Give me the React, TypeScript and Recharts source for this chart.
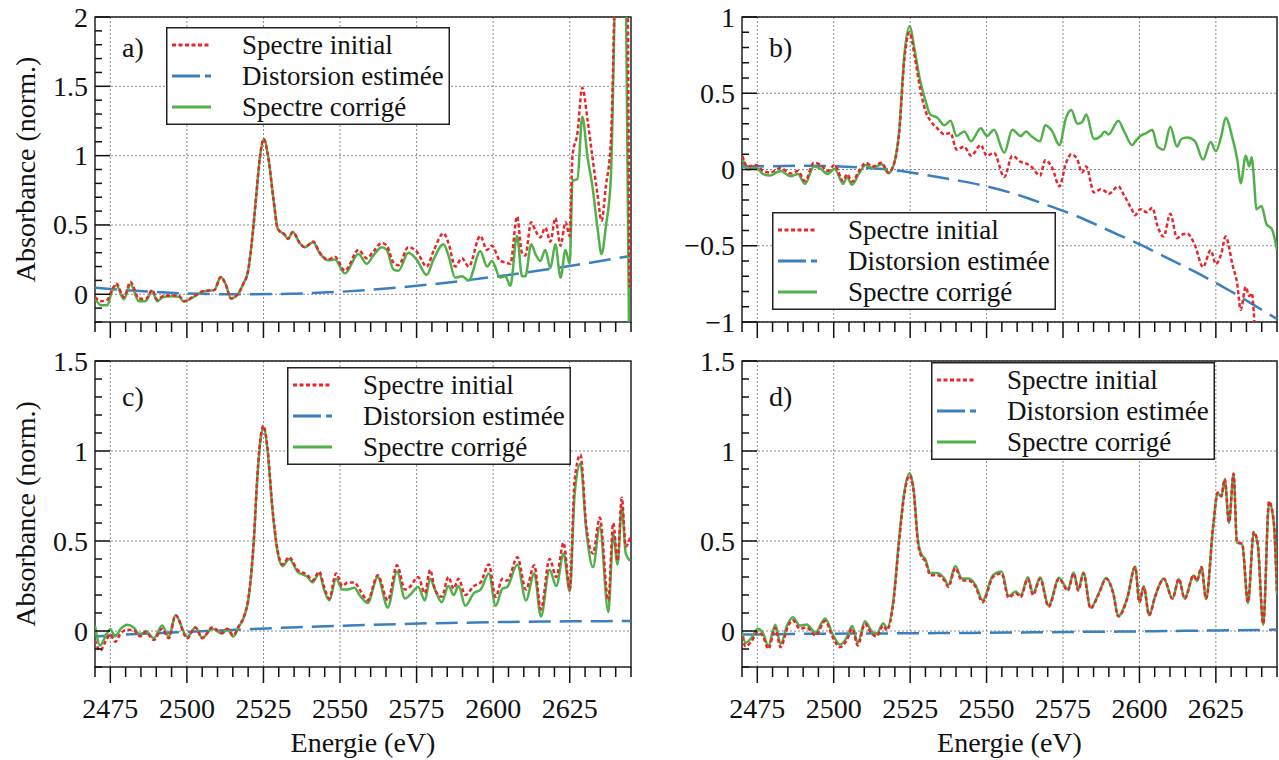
import React from "react";
import {
  LineChart,
  Line,
  XAxis,
  YAxis,
  CartesianGrid,
  Legend,
  ReferenceArea,
} from "recharts";

const FONT = '"Liberation Serif", "Times New Roman", serif';
const RED = "#e8262b";
const BLUE = "#3a7fc0";
const GREEN = "#52b04a";

// axes
const energyDomain: [number, number] = [2470, 2645];
const energyTicks = [2475, 2500, 2525, 2550, 2575, 2600, 2625];
const energyMinor = Array.from({ length: 36 }, (_, i) => 2470 + i * 5);
const tenths = (lo: number, hi: number) =>
  Array.from({ length: Math.round((hi - lo) * 10) + 1 }, (_, i) => Math.round(lo * 10 + i) / 10);

// distortion curves (smooth)
const distortionEnergies = [2470, 2480, 2490, 2500, 2510, 2520, 2530, 2540, 2550, 2560, 2570, 2580, 2590, 2600, 2610, 2620, 2630, 2640, 2645];
const distortionA = [0.047, 0.03, 0.016, 0.006, 0.001, 0.0, 0.002, 0.008, 0.018, 0.032, 0.05, 0.072, 0.097, 0.125, 0.155, 0.187, 0.222, 0.258, 0.277];
const distortionB = [0.02, 0.022, 0.025, 0.022, 0.012, -0.005, -0.035, -0.07, -0.11, -0.165, -0.235, -0.31, -0.4, -0.49, -0.59, -0.69, -0.8, -0.92, -0.98];
const distortionC = [-0.03, -0.02, -0.012, -0.005, 0.003, 0.01, 0.017, 0.023, 0.029, 0.034, 0.039, 0.043, 0.046, 0.049, 0.051, 0.053, 0.054, 0.055, 0.055];
const distortionD = [-0.02, -0.018, -0.016, -0.015, -0.014, -0.013, -0.012, -0.011, -0.01, -0.008, -0.007, -0.005, -0.004, -0.002, 0.0, 0.002, 0.004, 0.006, 0.008];

// panel a
const energiesA = [2470, 2472, 2474, 2475.5, 2477, 2479.4, 2481.6, 2484.3, 2486.5, 2488.7, 2490.3, 2492.5, 2495, 2497.4, 2499, 2502.4, 2505.6, 2508.9, 2511.1, 2512.7, 2514.4, 2516.6, 2518.5, 2519.9, 2521.5, 2522.6, 2523.8, 2525.1, 2526.5, 2528.3, 2529.7, 2531.9, 2533, 2534.6, 2536.8, 2538.5, 2541.2, 2543.4, 2546.1, 2548.3, 2551.6, 2556, 2558.7, 2560.9, 2563.6, 2565.3, 2567.4, 2569.1, 2572.3, 2575, 2578.3, 2580.5, 2583.8, 2585.4, 2587.6, 2589.8, 2592, 2595.8, 2598, 2599.6, 2602.3, 2604, 2605.6, 2607.8, 2609.4, 2610.5, 2612.4, 2613.8, 2615.4, 2617, 2618.7, 2620.3, 2622, 2623.6, 2625, 2625.9, 2627.5, 2629.1, 2630.8, 2632.4, 2634, 2635.4, 2636.8, 2638.4, 2639.5, 2641, 2643, 2644.5];
const initialA = [-0.02, -0.05, -0.04, 0.03, 0.077, -0.02, 0.089, -0.03, -0.035, 0.03, -0.04, -0.01, -0.008, -0.01, -0.05, -0.012, 0.024, 0.03, 0.125, 0.07, -0.03, 0.0, 0.08, 0.16, 0.44, 0.7, 0.98, 1.12, 1.0, 0.68, 0.47, 0.43, 0.4, 0.45, 0.37, 0.34, 0.38, 0.3, 0.25, 0.27, 0.17, 0.32, 0.26, 0.31, 0.37, 0.35, 0.23, 0.21, 0.34, 0.31, 0.2, 0.31, 0.44, 0.37, 0.2, 0.26, 0.2, 0.42, 0.32, 0.35, 0.24, 0.23, 0.22, 0.56, 0.3, 0.28, 0.52, 0.46, 0.41, 0.48, 0.38, 0.55, 0.35, 0.52, 0.42, 1.0, 1.16, 1.49, 1.26, 0.99, 0.73, 0.53, 0.78, 1.09, 2.0, 4.0, 4.0, 0.05];
const corrigeA = [-0.03, -0.08, -0.08, 0.02, 0.065, -0.036, 0.072, -0.05, -0.05, 0.024, -0.05, -0.017, -0.015, -0.017, -0.053, -0.017, 0.022, 0.03, 0.125, 0.07, -0.03, 0.0, 0.08, 0.16, 0.44, 0.7, 0.98, 1.12, 1.0, 0.68, 0.47, 0.43, 0.4, 0.45, 0.37, 0.34, 0.375, 0.295, 0.245, 0.25, 0.15, 0.29, 0.22, 0.28, 0.34, 0.32, 0.18, 0.17, 0.3, 0.25, 0.14, 0.25, 0.36, 0.28, 0.12, 0.13, 0.1, 0.31, 0.2, 0.24, 0.12, 0.13, 0.06, 0.42, 0.13, 0.13, 0.36, 0.29, 0.24, 0.32, 0.19, 0.36, 0.12, 0.32, 0.22, 0.82, 0.83, 1.28, 0.99, 0.78, 0.49, 0.29, 0.49, 0.83, 1.9, 4.0, 3.0, -0.6];

// panel b
const energiesB = [2470.1, 2471.8, 2474.7, 2476.9, 2479.2, 2482.6, 2486, 2488.3, 2490.6, 2493.5, 2495.7, 2498, 2500.3, 2503.1, 2504.3, 2506, 2508.3, 2510.5, 2512.8, 2515.7, 2517.9, 2519.6, 2521.4, 2523.1, 2524.8, 2526.5, 2528.2, 2529.9, 2531.6, 2533.9, 2536.2, 2538.2, 2540.2, 2542.7, 2544.9, 2548.1, 2550.1, 2552.4, 2555.8, 2558.4, 2561.2, 2562.9, 2564.6, 2567.5, 2569.2, 2571.5, 2573.8, 2576, 2577.7, 2579.7, 2581.2, 2582.6, 2585.1, 2587.4, 2588.6, 2589.9, 2593.1, 2595, 2597.7, 2598.5, 2600.3, 2602.4, 2604.2, 2605.9, 2607.9, 2610.1, 2612.3, 2613.7, 2615.6, 2618.2, 2620.8, 2623.3, 2625, 2626.8, 2628.2, 2630.5, 2632, 2633.1, 2634.8, 2635.9, 2636.7, 2637.6, 2638.2, 2639.9, 2641.6, 2643.3, 2645];
const initialB = [0.09, 0.02, 0.03, -0.01, -0.02, 0.01, -0.026, -0.01, -0.076, 0.044, 0.03, -0.01, 0.03, -0.076, -0.03, -0.08, -0.01, 0.044, 0.02, 0.044, -0.02, 0.03, 0.24, 0.72, 0.9, 0.74, 0.54, 0.39, 0.32, 0.27, 0.23, 0.24, 0.13, 0.15, 0.09, 0.16, 0.09, 0.11, -0.05, 0.09, 0.05, 0.04, 0.02, -0.04, 0.06, 0.01, -0.11, 0.044, 0.1, 0.065, -0.02, 0.02, -0.15, -0.13, -0.14, -0.16, -0.11, -0.17, -0.27, -0.3, -0.26, -0.28, -0.25, -0.37, -0.44, -0.29, -0.45, -0.43, -0.42, -0.5, -0.64, -0.53, -0.62, -0.55, -0.44, -0.63, -0.75, -0.92, -0.77, -0.83, -0.81, -1.0, -1.25, -1.3, -1.4, -1.45, -1.5];
const corrigeB = [0.08, 0.0, 0.01, -0.03, -0.04, -0.01, -0.045, -0.03, -0.095, 0.02, 0.005, -0.03, 0.005, -0.095, -0.05, -0.1, -0.025, 0.03, 0.01, 0.035, -0.025, 0.03, 0.25, 0.75, 0.94, 0.78, 0.59, 0.46, 0.36, 0.34, 0.29, 0.32, 0.22, 0.25, 0.185, 0.27, 0.22, 0.26, 0.11, 0.26, 0.22, 0.25, 0.22, 0.185, 0.29, 0.25, 0.16, 0.34, 0.39, 0.3, 0.31, 0.36, 0.2, 0.22, 0.25, 0.23, 0.32, 0.25, 0.16, 0.18, 0.22, 0.24, 0.26, 0.15, 0.13, 0.28, 0.15, 0.2, 0.21, 0.185, 0.065, 0.18, 0.12, 0.22, 0.34, 0.2, 0.065, -0.09, 0.09, 0.02, 0.08, -0.1, -0.26, -0.24, -0.36, -0.39, -0.53];

// panel c
const energiesC = [2470, 2471.7, 2473.4, 2475, 2476.6, 2478.3, 2480.5, 2482.6, 2484.8, 2486.5, 2489.2, 2491.9, 2494.1, 2496.3, 2500.1, 2502.8, 2505, 2508.3, 2511.5, 2513.2, 2515.1, 2517, 2518.6, 2520.3, 2521.9, 2523, 2524.1, 2525, 2526.3, 2527.9, 2529.6, 2531.2, 2533.4, 2536.1, 2539.4, 2541, 2543.2, 2544.8, 2546.5, 2548.7, 2550.8, 2552.5, 2554.6, 2556.8, 2559, 2562.3, 2565.6, 2568.6, 2571.2, 2572.8, 2575.5, 2577.7, 2579.4, 2581, 2583.2, 2585.4, 2587.1, 2588.7, 2590.9, 2593.7, 2595.9, 2598.6, 2600.8, 2603, 2604.6, 2607.9, 2610.7, 2613.4, 2615.6, 2618.4, 2620.6, 2623, 2625, 2626.6, 2628.5, 2630.4, 2632.6, 2634.8, 2637.6, 2639.2, 2640.6, 2642, 2643.3, 2644.7];
const initialC = [-0.05, -0.11, -0.06, -0.02, -0.06, -0.015, 0.007, 0.004, -0.03, -0.005, -0.05, 0.013, -0.04, 0.087, -0.04, 0.02, -0.04, 0.02, -0.01, 0.013, -0.024, 0.03, 0.08, 0.21, 0.52, 0.86, 1.08, 1.14, 1.02, 0.69, 0.45, 0.37, 0.41, 0.34, 0.31, 0.28, 0.33, 0.245, 0.18, 0.32, 0.25, 0.27, 0.27, 0.22, 0.17, 0.31, 0.17, 0.365, 0.23, 0.245, 0.3, 0.21, 0.34, 0.23, 0.19, 0.3, 0.235, 0.29, 0.2, 0.25, 0.27, 0.37, 0.19, 0.29, 0.28, 0.41, 0.23, 0.365, 0.12, 0.4, 0.3, 0.49, 0.23, 0.84, 0.98, 0.58, 0.43, 0.63, 0.17, 0.6, 0.39, 0.74, 0.47, 0.52];
const corrigeC = [0.03, -0.08, -0.03, 0.01, -0.03, 0.01, 0.035, 0.02, -0.025, 0.0, -0.04, 0.03, -0.03, 0.087, -0.033, 0.02, -0.037, 0.013, -0.015, 0.01, -0.03, 0.025, 0.075, 0.2, 0.51, 0.85, 1.07, 1.13, 1.01, 0.68, 0.44, 0.36, 0.4, 0.33, 0.3, 0.27, 0.32, 0.23, 0.17, 0.29, 0.23, 0.23, 0.24, 0.19, 0.155, 0.3, 0.13, 0.33, 0.18, 0.2, 0.245, 0.17, 0.29, 0.23, 0.16, 0.25, 0.2, 0.25, 0.14, 0.21, 0.23, 0.32, 0.14, 0.235, 0.245, 0.37, 0.17, 0.32, 0.08, 0.34, 0.25, 0.43, 0.22, 0.76, 0.93, 0.56, 0.355, 0.58, 0.105, 0.54, 0.37, 0.69, 0.43, 0.39];

// panel d
const energiesD = [2470.1, 2471.2, 2473, 2475.2, 2476.9, 2478.6, 2480.9, 2482.6, 2484.9, 2486.6, 2488.9, 2491.2, 2494, 2497.2, 2499.7, 2502, 2504.3, 2506, 2507.9, 2510.2, 2512.2, 2514, 2516.2, 2517.4, 2519.6, 2521.4, 2523.1, 2524.8, 2526.1, 2527.6, 2528.8, 2529.9, 2531.6, 2533.9, 2536.2, 2537.5, 2539.8, 2541.9, 2544.1, 2546.4, 2548.7, 2552.1, 2554.9, 2557.2, 2559.5, 2561.2, 2563.5, 2565.2, 2567.5, 2570.3, 2573.7, 2576.6, 2578.5, 2580, 2581.7, 2584, 2586.8, 2589.1, 2591.4, 2593.1, 2596, 2598.6, 2600, 2601.4, 2603.2, 2605.1, 2608, 2610.8, 2612.9, 2614.8, 2617.7, 2618.8, 2620.3, 2621.8, 2624.1, 2625.6, 2626.8, 2627.9, 2629.3, 2630.8, 2631.9, 2633.6, 2635.5, 2637.4, 2638.7, 2640.5, 2642.4, 2643.9, 2645];
const initialD = [-0.03, -0.085, -0.06, -0.005, -0.03, -0.1, 0.017, -0.09, 0.02, 0.06, 0.013, 0.02, -0.025, 0.055, -0.035, -0.09, -0.05, 0.013, -0.08, 0.04, -0.01, -0.03, 0.03, 0.004, 0.17, 0.5, 0.76, 0.865, 0.78, 0.485, 0.41, 0.39, 0.31, 0.31, 0.28, 0.245, 0.35, 0.28, 0.28, 0.245, 0.16, 0.3, 0.32, 0.185, 0.21, 0.19, 0.29, 0.2, 0.29, 0.135, 0.29, 0.225, 0.32, 0.225, 0.32, 0.125, 0.21, 0.29, 0.21, 0.08, 0.18, 0.355, 0.16, 0.245, 0.087, 0.19, 0.29, 0.18, 0.29, 0.18, 0.31, 0.28, 0.355, 0.18, 0.58, 0.77, 0.75, 0.845, 0.605, 0.875, 0.495, 0.485, 0.16, 0.55, 0.485, 0.04, 0.72, 0.615, 0.21];
const corrigeD = [-0.01, -0.065, -0.04, 0.013, -0.012, -0.082, 0.035, -0.072, 0.037, 0.077, 0.03, 0.036, -0.009, 0.07, -0.02, -0.075, -0.035, 0.028, -0.066, 0.054, 0.004, -0.016, 0.043, 0.017, 0.183, 0.513, 0.772, 0.877, 0.792, 0.497, 0.422, 0.402, 0.322, 0.322, 0.291, 0.256, 0.361, 0.291, 0.291, 0.255, 0.17, 0.31, 0.33, 0.194, 0.219, 0.198, 0.298, 0.208, 0.297, 0.142, 0.296, 0.231, 0.325, 0.23, 0.325, 0.13, 0.214, 0.294, 0.213, 0.083, 0.183, 0.357, 0.162, 0.247, 0.088, 0.191, 0.29, 0.18, 0.289, 0.179, 0.308, 0.278, 0.353, 0.178, 0.577, 0.767, 0.746, 0.841, 0.601, 0.871, 0.491, 0.48, 0.155, 0.545, 0.48, 0.034, 0.714, 0.608, 0.202];

const legendRows = [
  { label: "Spectre initial", color: RED, dash: "4 2.5" },
  { label: "Distorsion estimée", color: BLUE, dash: "28 5" },
  { label: "Spectre corrigé", color: GREEN, dash: undefined },
];

const toPoints = (xs: number[], ys: number[]) => xs.map((e, i) => ({ e, v: ys[i] }));

const fmt = (v: number) => (v < 0 ? "\u2212" + Math.abs(v) : String(v));

function LegendBox() {
  return (
    <svg width={284} height={98} style={{ display: "block" }}>
      <rect x={0.75} y={0.75} width={282.5} height={96.5} fill="#fff" stroke="#222" strokeWidth={1.5} />
      {legendRows.map((r, i) => {
        const cy = 18 + i * 31;
        return (
          <g key={r.label}>
            <line x1={6} x2={45} y1={cy} y2={cy} stroke={r.color} strokeWidth={3} strokeDasharray={r.dash} />
            <text x={76} y={cy} dominantBaseline="central" fontSize={27} fontFamily={FONT} fill="#111">
              {r.label}
            </text>
          </g>
        );
      })}
    </svg>
  );
}

type PanelProps = {
  left: number;
  top: number;
  width: number;
  height: number;
  margin: { top: number; right: number; bottom: number; left: number };
  yAxisWidth: number;
  xAxisHeight: number;
  yDomain: [number, number];
  yMajor: number[];
  energies: number[];
  initial: number[];
  corrige: number[];
  distortion: number[];
  legendAt: { x: number; y: number };
  letter: string;
  letterAt: { x: number; y: number };
  xLabels: boolean;
  yTitle: boolean;
};

function Panel(p: PanelProps) {
  const yMinor = tenths(p.yDomain[0], p.yDomain[1]);
  const isMajorY = (v: number) => p.yMajor.some((m) => Math.abs(m - v) < 1e-6);

  return (
    <div style={{ position: "absolute", left: p.left, top: p.top, width: p.width, height: p.height }}>
      <LineChart width={p.width} height={p.height} margin={p.margin}>
        <CartesianGrid
          verticalValues={energyTicks}
          horizontalValues={p.yMajor}
          stroke="#8a8a8a"
          strokeDasharray="2 2"
        />
        <XAxis
          dataKey="e"
          type="number"
          domain={energyDomain}
          ticks={energyMinor}
          interval={0}
          allowDataOverflow
          height={p.xAxisHeight}
          axisLine={false}
          tickLine={false}
          tickSize={0}
          tickMargin={0}
          tick={(t: any) => {
            const v = t.payload.value;
            const major = v % 25 === 0;
            return (
              <g>
                <line x1={t.x} x2={t.x} y1={t.y} y2={t.y + (major ? 16 : 10)} stroke="#111" strokeWidth={1.5} />
                {major && p.xLabels && (
                  <text x={t.x} y={t.y + 41} textAnchor="middle" dominantBaseline="central" fontSize={28} fontFamily={FONT} fill="#111">
                    {v}
                  </text>
                )}
              </g>
            );
          }}
          label={
            p.xLabels
              ? { value: "Energie (eV)", position: "insideBottom", offset: 8, style: { fontSize: 28, fontFamily: FONT, fill: "#111" } }
              : undefined
          }
        />
        <YAxis
          type="number"
          domain={p.yDomain}
          ticks={yMinor}
          interval={0}
          allowDataOverflow
          width={p.yAxisWidth}
          axisLine={false}
          tickLine={false}
          tickSize={0}
          tickMargin={0}
          tick={(t: any) => {
            const v = t.payload.value;
            const major = isMajorY(v);
            return (
              <g>
                <line x1={t.x} x2={t.x + (major ? 15 : 7)} y1={t.y} y2={t.y} stroke="#111" strokeWidth={1.5} />
                {major && (
                  <text x={t.x - 7} y={t.y} textAnchor="end" dominantBaseline="central" fontSize={28} fontFamily={FONT} fill="#111">
                    {fmt(v)}
                  </text>
                )}
              </g>
            );
          }}
          label={
            p.yTitle
              ? {
                  value: "Absorbance (norm.)",
                  angle: -90,
                  position: "insideLeft",
                  offset: 25,
                  style: { textAnchor: "middle", fontSize: 28, fontFamily: FONT, fill: "#111" },
                }
              : undefined
          }
        />
        <Line
          data={toPoints(distortionEnergies, p.distortion)}
          dataKey="v"
          type="monotone"
          stroke={BLUE}
          strokeWidth={2.5}
          strokeDasharray="22 9"
          dot={false}
          isAnimationActive={false}
        />
        <Line
          data={toPoints(p.energies, p.corrige)}
          dataKey="v"
          type="monotone"
          stroke={GREEN}
          strokeWidth={2.5}
          dot={false}
          isAnimationActive={false}
        />
        <Line
          data={toPoints(p.energies, p.initial)}
          dataKey="v"
          type="monotone"
          stroke={RED}
          strokeWidth={2.5}
          strokeDasharray="4 2.5"
          dot={false}
          isAnimationActive={false}
        />
        <ReferenceArea
          x1={energyDomain[0]}
          x2={energyDomain[1]}
          y1={p.yDomain[0]}
          y2={p.yDomain[1]}
          fill="none"
          stroke="#222"
          strokeWidth={1.5}
        />
        <Legend
          layout="vertical"
          align="center"
          verticalAlign="middle"
          wrapperStyle={{ left: p.legendAt.x, top: p.legendAt.y, width: 284, height: 98 }}
          content={() => <LegendBox />}
        />
      </LineChart>
      <div
        style={{
          position: "absolute",
          left: p.letterAt.x,
          top: p.letterAt.y - 16,
          fontSize: 28,
          lineHeight: "32px",
          fontFamily: FONT,
          color: "#111",
        }}
      >
        {p.letter}
      </div>
    </div>
  );
}

export default function App() {
  const topMargin = { top: 17, right: 9, bottom: 0, left: 0 };
  const topMarginB = { top: 17, right: 2, bottom: 0, left: 0 };
  const botMargin = { top: 21, right: 9, bottom: 0, left: 0 };
  const botMarginB = { top: 21, right: 2, bottom: 0, left: 0 };
  return (
    <div style={{ position: "absolute", left: 0, top: 0, width: 1279, height: 760, background: "#fff", fontFamily: FONT }}>
      <Panel
        left={0} top={0} width={640} height={340} margin={topMargin} yAxisWidth={95} xAxisHeight={18}
        yDomain={[-0.2, 2]} yMajor={[0, 0.5, 1, 1.5, 2]}
        energies={energiesA} initial={initialA} corrige={corrigeA} distortion={distortionA}
        legendAt={{ x: 166, y: 27 }} letter="a)" letterAt={{ x: 122, y: 48 }} xLabels={false} yTitle
      />
      <Panel
        left={640} top={0} width={639} height={340} margin={topMarginB} yAxisWidth={102} xAxisHeight={18}
        yDomain={[-1, 1]} yMajor={[-1, -0.5, 0, 0.5, 1]}
        energies={energiesB} initial={initialB} corrige={corrigeB} distortion={distortionB}
        legendAt={{ x: 132, y: 212 }} letter="b)" letterAt={{ x: 129, y: 48 }} xLabels={false} yTitle={false}
      />
      <Panel
        left={0} top={340} width={640} height={420} margin={botMargin} yAxisWidth={95} xAxisHeight={93}
        yDomain={[-0.2, 1.5]} yMajor={[0, 0.5, 1, 1.5]}
        energies={energiesC} initial={initialC} corrige={corrigeC} distortion={distortionC}
        legendAt={{ x: 287, y: 27 }} letter="c)" letterAt={{ x: 122, y: 57 }} xLabels yTitle
      />
      <Panel
        left={640} top={340} width={639} height={420} margin={botMarginB} yAxisWidth={102} xAxisHeight={93}
        yDomain={[-0.2, 1.5]} yMajor={[0, 0.5, 1, 1.5]}
        energies={energiesD} initial={initialD} corrige={corrigeD} distortion={distortionD}
        legendAt={{ x: 291, y: 22 }} letter="d)" letterAt={{ x: 129, y: 57 }} xLabels yTitle={false}
      />
    </div>
  );
}
